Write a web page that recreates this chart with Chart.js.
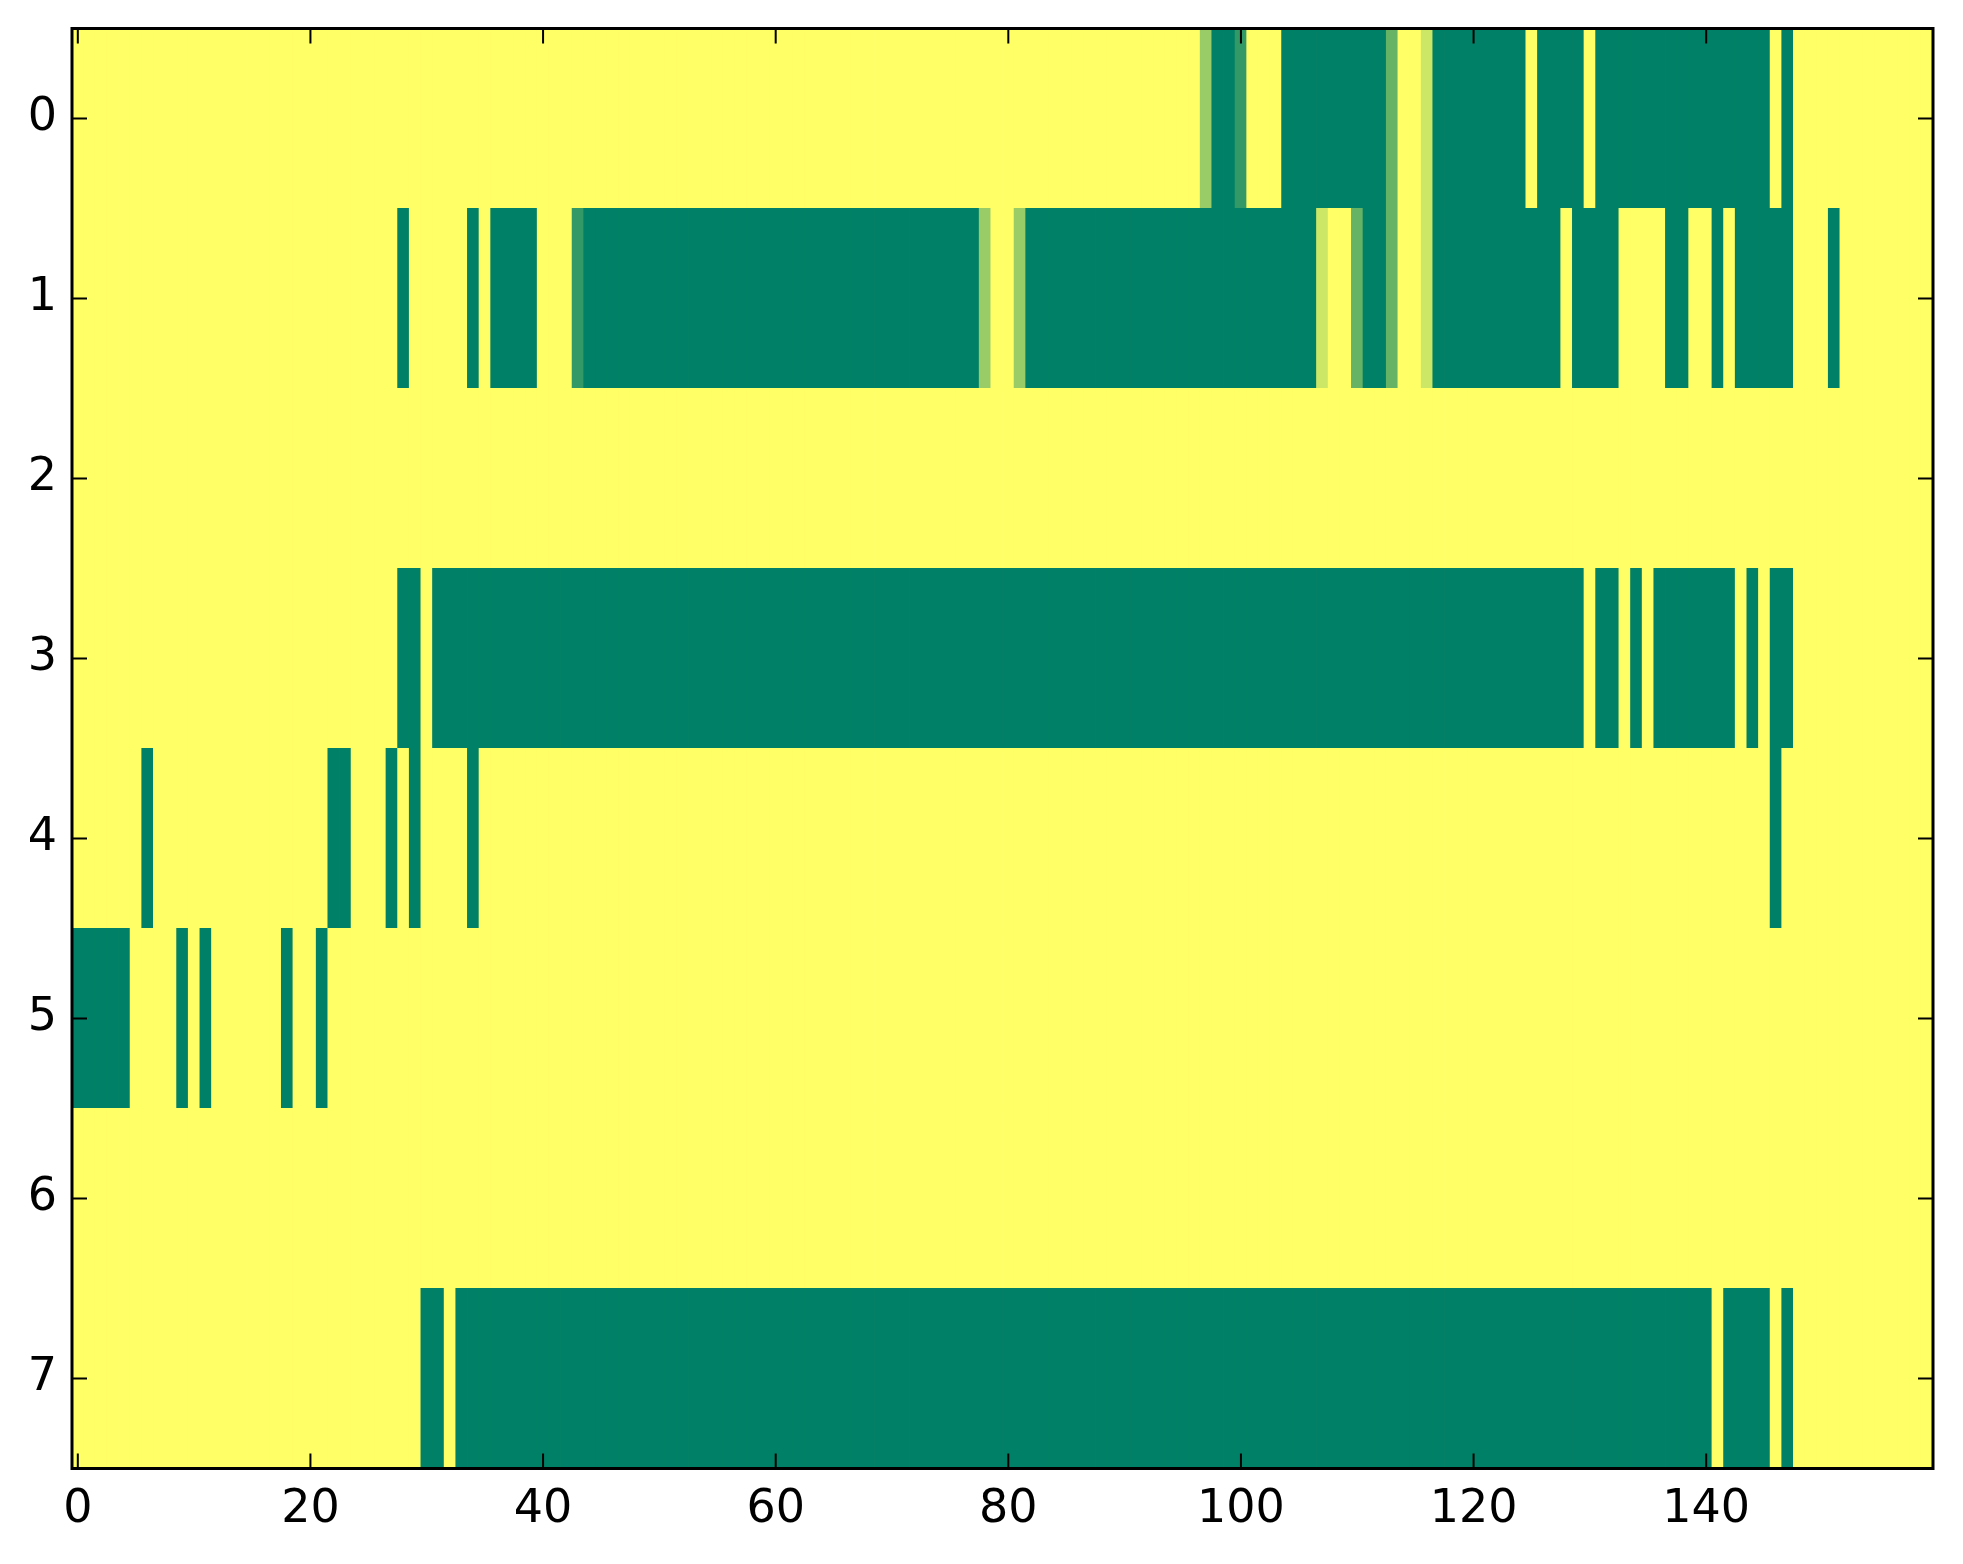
<!DOCTYPE html>
<html>
<head>
<meta charset="utf-8">
<script src="https://cdn.jsdelivr.net/npm/chart.js@4.4.1/dist/chart.umd.min.js"></script>
<style>
html,body{margin:0;padding:0;background:#fff;}
#wrap{width:1963px;height:1564px;position:relative;}
</style>
</head>
<body>
<div id="wrap"><canvas id="c"></canvas></div>
<script>
const rowLabels = ['0','1','2','3','4','5','6','7'];
const xTicks = [0,20,40,60,80,100,120,140];
const xMin = -0.5;
const xMax = 159.5;

const row0 = [
1,1,1,1,1,1,1,1,1,1,1,1,1,1,1,1,1,1,1,1,
1,1,1,1,1,1,1,1,1,1,1,1,1,1,1,1,1,1,1,1,
1,1,1,1,1,1,1,1,1,1,1,1,1,1,1,1,1,1,1,1,
1,1,1,1,1,1,1,1,1,1,1,1,1,1,1,1,1,1,1,1,
1,1,1,1,1,1,1,1,1,1,1,1,1,1,1,1,1,0.6,0,0,
0.2,1,1,1,0,0,0,0,0,0,0,0,0,0.4,1,1,0.8,0,0,0,
0,0,0,0,0,1,0,0,0,0,1,0,0,0,0,0,0,0,0,0,
0,0,0,0,0,0,1,0,1,1,1,1,1,1,1,1,1,1,1,1
];
const row1 = [
1,1,1,1,1,1,1,1,1,1,1,1,1,1,1,1,1,1,1,1,
1,1,1,1,1,1,1,1,0,1,1,1,1,1,0,1,0,0,0,0,
1,1,1,0.2,0,0,0,0,0,0,0,0,0,0,0,0,0,0,0,0,
0,0,0,0,0,0,0,0,0,0,0,0,0,0,0,0,0,0,0.6,1,
1,0.6,0,0,0,0,0,0,0,0,0,0,0,0,0,0,0,0,0,0,
0,0,0,0,0,0,0,0.8,1,1,0.4,0,0,0.4,1,1,0.8,0,0,0,
0,0,0,0,0,0,0,0,1,0,0,0,0,1,1,1,1,0,0,1,
1,0,1,0,0,0,0,0,1,1,1,0,1,1,1,1,1,1,1,1
];
const row2 = [
1,1,1,1,1,1,1,1,1,1,1,1,1,1,1,1,1,1,1,1,
1,1,1,1,1,1,1,1,1,1,1,1,1,1,1,1,1,1,1,1,
1,1,1,1,1,1,1,1,1,1,1,1,1,1,1,1,1,1,1,1,
1,1,1,1,1,1,1,1,1,1,1,1,1,1,1,1,1,1,1,1,
1,1,1,1,1,1,1,1,1,1,1,1,1,1,1,1,1,1,1,1,
1,1,1,1,1,1,1,1,1,1,1,1,1,1,1,1,1,1,1,1,
1,1,1,1,1,1,1,1,1,1,1,1,1,1,1,1,1,1,1,1,
1,1,1,1,1,1,1,1,1,1,1,1,1,1,1,1,1,1,1,1
];
const row3 = [
1,1,1,1,1,1,1,1,1,1,1,1,1,1,1,1,1,1,1,1,
1,1,1,1,1,1,1,1,0,0,1,0,0,0,0,0,0,0,0,0,
0,0,0,0,0,0,0,0,0,0,0,0,0,0,0,0,0,0,0,0,
0,0,0,0,0,0,0,0,0,0,0,0,0,0,0,0,0,0,0,0,
0,0,0,0,0,0,0,0,0,0,0,0,0,0,0,0,0,0,0,0,
0,0,0,0,0,0,0,0,0,0,0,0,0,0,0,0,0,0,0,0,
0,0,0,0,0,0,0,0,0,0,1,0,0,1,0,1,0,0,0,0,
0,0,0,1,0,1,0,0,1,1,1,1,1,1,1,1,1,1,1,1
];
const row4 = [
1,1,1,1,1,1,0,1,1,1,1,1,1,1,1,1,1,1,1,1,
1,1,0,0,1,1,1,0,1,0,1,1,1,1,0,1,1,1,1,1,
1,1,1,1,1,1,1,1,1,1,1,1,1,1,1,1,1,1,1,1,
1,1,1,1,1,1,1,1,1,1,1,1,1,1,1,1,1,1,1,1,
1,1,1,1,1,1,1,1,1,1,1,1,1,1,1,1,1,1,1,1,
1,1,1,1,1,1,1,1,1,1,1,1,1,1,1,1,1,1,1,1,
1,1,1,1,1,1,1,1,1,1,1,1,1,1,1,1,1,1,1,1,
1,1,1,1,1,1,0,1,1,1,1,1,1,1,1,1,1,1,1,1
];
const row5 = [
0,0,0,0,0,1,1,1,1,0,1,0,1,1,1,1,1,1,0,1,
1,0,1,1,1,1,1,1,1,1,1,1,1,1,1,1,1,1,1,1,
1,1,1,1,1,1,1,1,1,1,1,1,1,1,1,1,1,1,1,1,
1,1,1,1,1,1,1,1,1,1,1,1,1,1,1,1,1,1,1,1,
1,1,1,1,1,1,1,1,1,1,1,1,1,1,1,1,1,1,1,1,
1,1,1,1,1,1,1,1,1,1,1,1,1,1,1,1,1,1,1,1,
1,1,1,1,1,1,1,1,1,1,1,1,1,1,1,1,1,1,1,1,
1,1,1,1,1,1,1,1,1,1,1,1,1,1,1,1,1,1,1,1
];
const row6 = [
1,1,1,1,1,1,1,1,1,1,1,1,1,1,1,1,1,1,1,1,
1,1,1,1,1,1,1,1,1,1,1,1,1,1,1,1,1,1,1,1,
1,1,1,1,1,1,1,1,1,1,1,1,1,1,1,1,1,1,1,1,
1,1,1,1,1,1,1,1,1,1,1,1,1,1,1,1,1,1,1,1,
1,1,1,1,1,1,1,1,1,1,1,1,1,1,1,1,1,1,1,1,
1,1,1,1,1,1,1,1,1,1,1,1,1,1,1,1,1,1,1,1,
1,1,1,1,1,1,1,1,1,1,1,1,1,1,1,1,1,1,1,1,
1,1,1,1,1,1,1,1,1,1,1,1,1,1,1,1,1,1,1,1
];
const row7 = [
1,1,1,1,1,1,1,1,1,1,1,1,1,1,1,1,1,1,1,1,
1,1,1,1,1,1,1,1,1,1,0,0,1,0,0,0,0,0,0,0,
0,0,0,0,0,0,0,0,0,0,0,0,0,0,0,0,0,0,0,0,
0,0,0,0,0,0,0,0,0,0,0,0,0,0,0,0,0,0,0,0,
0,0,0,0,0,0,0,0,0,0,0,0,0,0,0,0,0,0,0,0,
0,0,0,0,0,0,0,0,0,0,0,0,0,0,0,0,0,0,0,0,
0,0,0,0,0,0,0,0,0,0,0,0,0,0,0,0,0,0,0,0,
0,1,0,0,0,0,1,0,1,1,1,1,1,1,1,1,1,1,1,1
];
const rows = [row0,row1,row2,row3,row4,row5,row6,row7];

// matplotlib "summer" colormap
function summer(v){
  const r = Math.round(255*v);
  const g = Math.round(255*(0.5+0.5*v));
  const b = 102;
  return 'rgb('+r+','+g+','+b+')';
}

const cells = [];
rows.forEach((vals, r) => {
  vals.forEach((v, c) => {
    cells.push({x:[c-0.5, c+0.5], y: rowLabels[r], v: v});
  });
});

const FONT = {family:'DejaVu Sans', size:46};

const framePlugin = {
  id:'frame',
  afterDraw(chart){
    const {ctx, chartArea:a, scales} = chart;
    const xs = scales.x, ys = scales.y;
    ctx.save();
    ctx.strokeStyle = '#000';
    ctx.lineWidth = 2;
    ctx.beginPath();
    xTicks.forEach(v => {
      const px = xs.getPixelForValue(v);
      ctx.moveTo(px, a.bottom); ctx.lineTo(px, a.bottom-15);
      ctx.moveTo(px, a.top); ctx.lineTo(px, a.top+15);
    });
    rowLabels.forEach((l, i) => {
      const py = ys.getPixelForValue(i);
      ctx.moveTo(a.left, py); ctx.lineTo(a.left+15, py);
      ctx.moveTo(a.right, py); ctx.lineTo(a.right-15, py);
    });
    ctx.stroke();
    ctx.lineWidth = 3;
    ctx.strokeRect(a.left, a.top, a.right-a.left, a.bottom-a.top);
    ctx.restore();
  }
};

new Chart(document.getElementById('c'), {
  type:'bar',
  data:{
    labels: rowLabels,
    datasets:[{
      data: cells,
      backgroundColor: ctx => summer(ctx.raw ? ctx.raw.v : 0),
      borderWidth:0,
      barPercentage:1,
      categoryPercentage:1,
      inflateAmount:0.4
    }]
  },
  options:{
    indexAxis:'y',
    responsive:true,
    maintainAspectRatio:false,
    devicePixelRatio:1,
    animation:false,
    events:[],
    layout:{padding:{left:0, top:28.5, right:30, bottom:0}},
    plugins:{legend:{display:false}, tooltip:{enabled:false}},
    scales:{
      x:{
        type:'linear',
        min:xMin, max:xMax,
        grid:{display:false, drawTicks:false},
        border:{display:false},
        afterBuildTicks(scale){ scale.ticks = xTicks.map(v => ({value:v})); },
        afterFit(scale){ scale.height = 95.5; scale.paddingLeft = 0; scale.paddingRight = 0; },
        ticks:{color:'#000', font:FONT, padding:14, maxRotation:0, autoSkip:false,
               callback:(v)=>String(v)}
      },
      y:{
        type:'category',
        grid:{display:false, drawTicks:false},
        border:{display:false},
        afterFit(scale){ scale.width = 72; scale.paddingTop = 0; scale.paddingBottom = 0; },
        ticks:{color:'#000', font:FONT, padding:15, autoSkip:false}
      }
    }
  },
  plugins:[framePlugin]
});
</script>
</body>
</html>
